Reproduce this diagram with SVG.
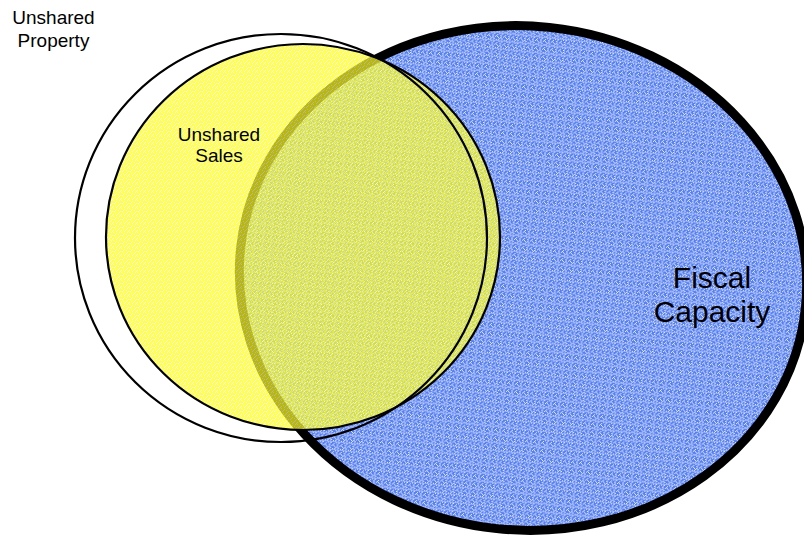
<svg xmlns="http://www.w3.org/2000/svg" width="804" height="535" viewBox="0 0 804 535">
  <style>
    .lbl { font-family: "Liberation Sans", Arial, sans-serif; fill: #000; text-anchor: middle; }
    .small { font-size: 19px; }
    .big { font-size: 30px; }
    .outline { fill: none; stroke: #000; stroke-width: 2.2; }
  </style>
  <defs>
    <pattern id="bluePat" width="8" height="8" patternUnits="userSpaceOnUse" shape-rendering="crispEdges">
      <rect width="8" height="8" fill="#5680f2"/>
      <g fill="#ffffff" fill-opacity="0.85">
        <rect x="0" y="0" width="1" height="1"/><rect x="3" y="1" width="1" height="1"/>
        <rect x="5" y="2" width="1" height="1"/><rect x="1" y="3" width="1" height="1"/>
        <rect x="6" y="4" width="1" height="1"/><rect x="2" y="5" width="1" height="1"/>
        <rect x="4" y="6" width="1" height="1"/><rect x="7" y="7" width="1" height="1"/>
        <rect x="6" y="0" width="1" height="1"/><rect x="2" y="2" width="1" height="1"/>
        <rect x="0" y="6" width="1" height="1"/><rect x="5" y="5" width="1" height="1"/>
        <rect x="7" y="3" width="1" height="1"/><rect x="3" y="7" width="1" height="1"/>
        <rect x="1" y="1" width="1" height="1"/><rect x="4" y="4" width="1" height="1"/>
      </g>
      <g fill="#9bb2f8">
        <rect x="0" y="4" width="8" height="1"/>
        <rect x="4" y="0" width="1" height="8"/>
      </g>
    </pattern>
    <pattern id="yellowPat" width="8" height="8" patternUnits="userSpaceOnUse" shape-rendering="crispEdges">
      <rect width="8" height="8" fill="#ffff10"/>
      <g fill="#ffffff" fill-opacity="0.85">
        <rect x="1" y="0" width="1" height="1"/><rect x="4" y="1" width="1" height="1"/>
        <rect x="6" y="2" width="1" height="1"/><rect x="2" y="3" width="1" height="1"/>
        <rect x="7" y="4" width="1" height="1"/><rect x="3" y="5" width="1" height="1"/>
        <rect x="5" y="6" width="1" height="1"/><rect x="0" y="7" width="1" height="1"/>
        <rect x="7" y="0" width="1" height="1"/><rect x="3" y="2" width="1" height="1"/>
        <rect x="1" y="6" width="1" height="1"/><rect x="6" y="5" width="1" height="1"/>
        <rect x="0" y="3" width="1" height="1"/><rect x="4" y="7" width="1" height="1"/>
      </g>
    </pattern>
  </defs>

  <g id="fiscal-capacity">
    <ellipse cx="523" cy="278" rx="284" ry="252" transform="rotate(6 523 278)" fill="url(#bluePat)" stroke="#000" stroke-width="9"/>
    <text class="lbl big" x="712" y="288">Fiscal</text>
    <text class="lbl big" x="712" y="322">Capacity</text>
  </g>

  <g id="unshared-sales">
    <ellipse cx="303" cy="237" rx="197" ry="193" fill="url(#yellowPat)" fill-opacity="0.72"/>
    <ellipse class="outline" cx="303" cy="237" rx="197" ry="193"/>
    <text class="lbl small" x="219" y="141">Unshared</text>
    <text class="lbl small" x="219" y="162">Sales</text>
  </g>

  <g id="unshared-property">
    <ellipse class="outline" cx="281" cy="238" rx="206" ry="204"/>
    <text class="lbl small" x="53.5" y="24">Unshared</text>
    <text class="lbl small" x="53.5" y="47">Property</text>
  </g>

  <g id="connectors"/>
</svg>
